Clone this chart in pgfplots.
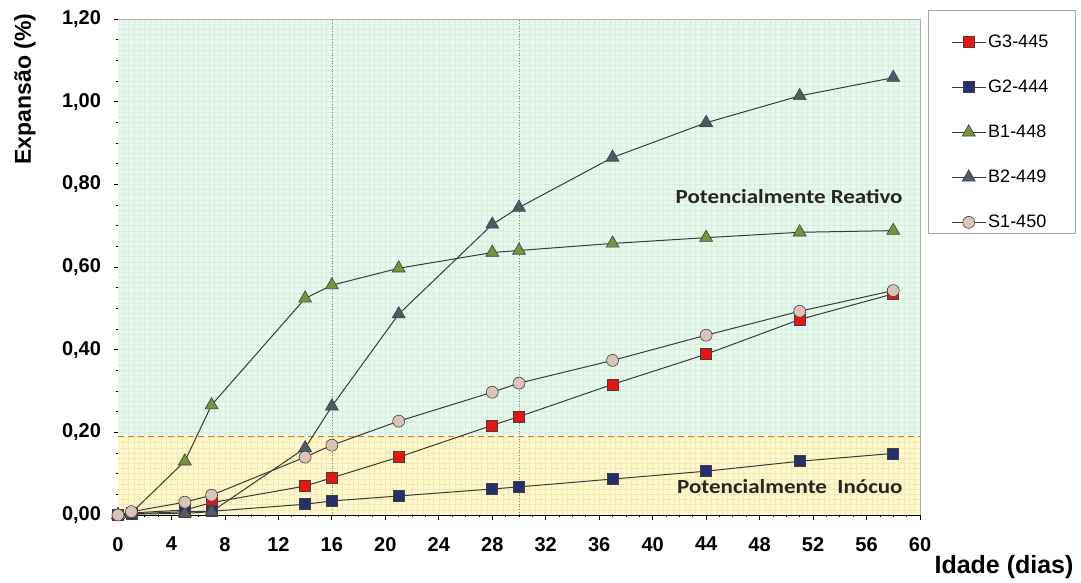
\documentclass[border=0pt]{standalone}
\usepackage{pgfplots}
\pgfplotsset{compat=1.18}
\usepackage{fontspec}
\setmainfont{Liberation Sans}
\newfontfamily\calib{Carlito}

\definecolor{bgreen}{HTML}{E9F8EE}
\definecolor{ggreen}{HTML}{D6EEDC}
\definecolor{byellow}{HTML}{FFF8CC}
\definecolor{gyellow}{HTML}{F0EAB8}
\definecolor{limitc}{HTML}{D9822B}
\definecolor{cG3}{HTML}{E8140F}
\definecolor{cG2}{HTML}{25306A}
\definecolor{cB1}{HTML}{77933C}
\definecolor{cB2}{HTML}{4F5A69}
\definecolor{cS1}{HTML}{DCC3B8}
\definecolor{linec}{HTML}{3A3A3A}

\begin{document}
\begin{tikzpicture}[x=1pt,y=1pt]
\begin{axis}[
  set layers=standard,
  name=ax,
  at={(118pt,67pt)}, anchor=south west,
  width=802pt, height=496pt, scale only axis,
  xmin=0, xmax=60, ymin=0, ymax=1.2,
  clip=false,
  axis x line*=bottom, axis y line*=left,
  axis line style={line width=1pt, black, -},
  xtick={0,4,...,60},
  ytick={0,0.2,0.4,0.6,0.8,1.0,1.2},
  minor x tick num=3, minor y tick num=3,
  tick align=center,
  major tick length=9pt, minor tick length=4pt,
  tick style={black, line width=0.8pt},
  /pgf/number format/assume math mode=true,
  tick label style={font=\bfseries\fontsize{20}{22}\selectfont},
  xticklabel style={yshift=-14pt},
  yticklabel style={xshift=-9pt,
    /pgf/number format/.cd, fixed, fixed zerofill, precision=2, use comma},
  legend style={at={(1.0387,0.972)}, anchor=north west, draw=none, fill=none,
    font=\fontsize{18}{20}\selectfont, row sep=27pt,
    inner xsep=0pt, inner ysep=0pt},
  legend cell align=left,
  legend image code/.code={%
    \draw[mark repeat=2,mark phase=2] plot coordinates {(0pt,0pt) (17pt,0pt) (34pt,0pt)};},
  every axis plot/.append style={linec, line width=1pt},
]
% shaded zones, fine background grid and reference lines
\fill[bgreen, on layer=axis background] (axis cs:0,0.19) rectangle (axis cs:60,1.2);
\fill[byellow, on layer=axis background] (axis cs:0,0) rectangle (axis cs:60,0.19);
\draw[ggreen, line width=0.5pt, on layer=axis background]
  \foreach \k in {1,...,149} { (axis cs:{\k*0.4},0.19) -- (axis cs:{\k*0.4},1.2) }
  \foreach \k in {16,...,95} { (axis cs:0,{\k*0.0125}) -- (axis cs:60,{\k*0.0125}) };
\draw[gyellow, line width=0.5pt, on layer=axis background]
  \foreach \k in {1,...,149} { (axis cs:{\k*0.4},0) -- (axis cs:{\k*0.4},0.19) }
  \foreach \k in {1,...,15} { (axis cs:0,{\k*0.0125}) -- (axis cs:60,{\k*0.0125}) };
\draw[gray!60, line width=0.8pt, on layer=axis background] (axis cs:0,1.2) -- (axis cs:60,1.2) -- (axis cs:60,0);
\draw[limitc, line width=1.2pt, dash pattern=on 6pt off 4pt, on layer=axis background] (axis cs:0,0.19) -- (axis cs:60,0.19);
\draw[gray, line width=0.7pt, dotted, on layer=axis background] (axis cs:16,0) -- (axis cs:16,1.2);
\draw[gray, line width=0.7pt, dotted, on layer=axis background] (axis cs:30,0) -- (axis cs:30,1.2);

\addplot[mark=square*, mark size=5.5pt, mark options={fill=cG3, draw=black!75, line width=0.6pt}]
  coordinates {(0,0) (1,0.005) (5,0.012) (7,0.03) (14,0.07) (16,0.09) (21,0.14) (28,0.217) (30,0.238) (37,0.316) (44,0.389) (51,0.473) (58,0.535)};
\addlegendentry{G3-445}
\addplot[mark=square*, mark size=5.5pt, mark options={fill=cG2, draw=black!75, line width=0.6pt}]
  coordinates {(0,0) (1,0.003) (5,0.008) (7,0.009) (14,0.026) (16,0.034) (21,0.046) (28,0.063) (30,0.068) (37,0.087) (44,0.106) (51,0.13) (58,0.149)};
\addlegendentry{G2-444}
\addplot[mark=triangle*, mark size=7.5pt, mark options={fill=cB1, draw=black!75, line width=0.6pt}]
  coordinates {(0,0) (1,0.005) (5,0.13) (7,0.266) (14,0.524) (16,0.556) (21,0.597) (28,0.635) (30,0.64) (37,0.657) (44,0.671) (51,0.684) (58,0.688)};
\addlegendentry{B1-448}
\addplot[mark=triangle*, mark size=7.5pt, mark options={fill=cB2, draw=black!75, line width=0.6pt}]
  coordinates {(0,0) (1,0.002) (5,0.004) (7,0.008) (14,0.162) (16,0.263) (21,0.486) (28,0.703) (30,0.744) (37,0.865) (44,0.949) (51,1.014) (58,1.058)};
\addlegendentry{B2-449}
\addplot[mark=*, mark size=6pt, mark options={fill=cS1, draw=black!75, line width=0.6pt}]
  coordinates {(0,0) (1,0.008) (5,0.031) (7,0.048) (14,0.14) (16,0.169) (21,0.227) (28,0.297) (30,0.319) (37,0.374) (44,0.435) (51,0.493) (58,0.543)};
\addlegendentry{S1-450}

\node[anchor=east, xscale=1.15, transform shape, font=\calib\bfseries\fontsize{20}{22}\selectfont, text=black!85] at (axis cs:59,0.770) {Potencialmente Reativo};
\node[anchor=east, xscale=1.15, transform shape, font=\calib\bfseries\fontsize{20}{22}\selectfont, text=black!85] at (axis cs:59,0.068) {Potencialmente\ \ Inócuo};
\end{axis}
% legend frame
\draw[gray!70, line width=0.6pt] (928,572) rectangle (1075,349);
\node[rotate=90, font=\bfseries\fontsize{23}{25}\selectfont] at (25,493) {Expansão (\%)};
\node[font=\bfseries\fontsize{25}{27}\selectfont] at (1004,15) {Idade (dias)};
\pgfresetboundingbox
\path[use as bounding box] (0,0) rectangle (1081,582);
\end{tikzpicture}
\end{document}
